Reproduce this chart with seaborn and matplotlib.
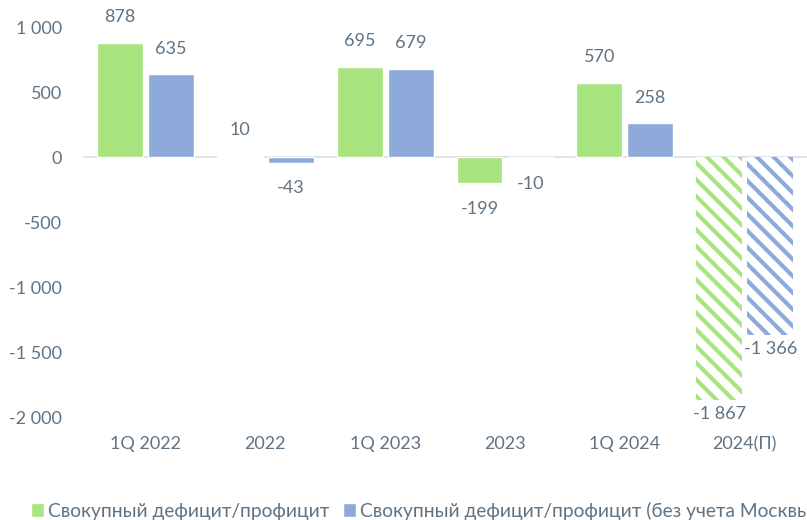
import numpy as np
import pandas as pd
import matplotlib
matplotlib.use("Agg")
import matplotlib.pyplot as plt
import seaborn as sns
from matplotlib.patches import Patch
from matplotlib.ticker import FuncFormatter

# data
categories = ["1Q 2022", "2022", "1Q 2023", "2023", "1Q 2024", "2024(П)"]
total = [878, 10, 695, -199, 570, -1867]
no_moscow = [635, -43, 679, -10, 258, -1366]
series = ["Свокупный дефицит/профицит",
          "Свокупный дефицит/профицит (без учета Москвы)"]
forecast = "2024(П)"

green = "#a8e480"
blue = "#8eaadb"
text_col = "#5f7383"

df = pd.DataFrame({
    "cat": categories * 2,
    "val": total + no_moscow,
    "series": [series[0]] * len(categories) + [series[1]] * len(categories),
})

sns.set_style("white")
plt.rcParams["font.family"] = ["Lato", "DejaVu Sans"]
plt.rcParams["hatch.linewidth"] = 3.0

fig = plt.figure(figsize=(8.07, 5.2), dpi=100)
ax = fig.add_axes([0.103, 0.198, 0.897, 0.75])

sns.barplot(data=df, x="cat", y="val", hue="series", order=categories,
            hue_order=series, palette=[green, blue], saturation=1,
            width=0.85, gap=0.1, legend=False, ax=ax)

fmt = lambda v: f"{v:,.0f}".replace(",", "\u00a0")

for cont, col in zip(ax.containers, [green, blue]):
    for cat, bar in zip(categories, cont):
        v = bar.get_height()
        hatched = cat == forecast
        if hatched:
            bar.set_facecolor("white")
            bar.set_edgecolor(col)
            bar.set_linewidth(0)
            bar.set_hatch("\\\\")
        off = 10 if hatched else 18.5
        ax.annotate(fmt(v), (bar.get_x() + bar.get_width() / 2, v),
                    xytext=(0, off if v >= 0 else -off), textcoords="offset points",
                    ha="center", va="center", fontsize=13, color=text_col)

ax.axhline(0, color="#d9dde3", lw=1.2, zorder=0.5)
ax.set_ylim(-2000, 1000)
ax.set_xlim(-0.52, 5.52)
ax.set_yticks(np.arange(-2000, 1001, 500))
ax.yaxis.set_major_formatter(FuncFormatter(lambda v, p: fmt(v)))
ax.set_xlabel("")
ax.set_ylabel("")
for s in ax.spines.values():
    s.set_visible(False)
ax.tick_params(axis="both", length=0, labelsize=13, labelcolor=text_col)
ax.tick_params(axis="y", pad=15)
ax.tick_params(axis="x", pad=14)

handles = [Patch(facecolor=green), Patch(facecolor=blue)]
fig.legend(handles, series, loc="center left", bbox_to_anchor=(0.038, 0.018),
           ncol=2, frameon=False, fontsize=13.8, labelcolor=text_col,
           handlelength=0.68, handleheight=0.68, handletextpad=0.2,
           columnspacing=0.75, borderaxespad=0, borderpad=0)

fig.savefig("out.png", dpi=100)
